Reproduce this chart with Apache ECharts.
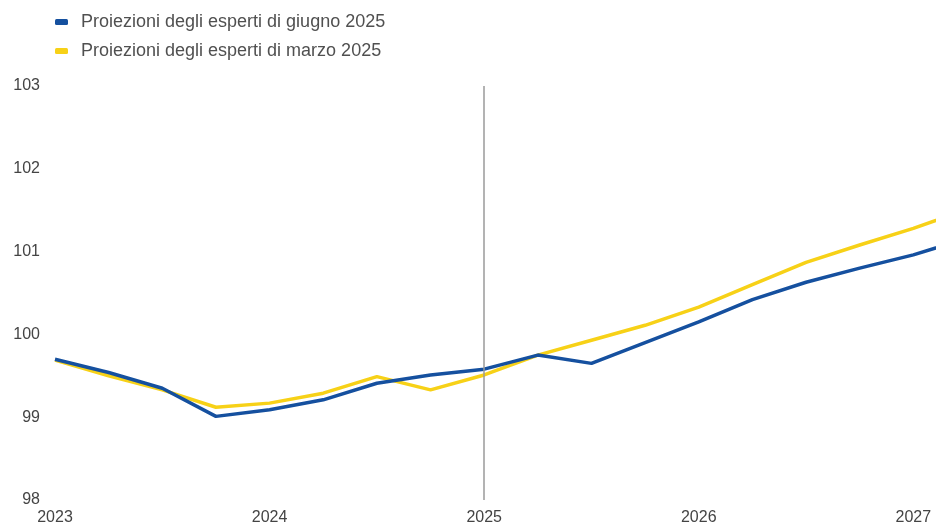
<!DOCTYPE html>
<html>
<head>
<meta charset="utf-8">
<script src="https://cdn.jsdelivr.net/npm/echarts@6/dist/echarts.min.js"></script>
<style>
  html, body { margin: 0; padding: 0; background: #ffffff; }
  #chart { width: 936px; height: 531px; }
</style>
</head>
<body>
<div id="chart"></div>
<script>
// Quarterly periods, 2023Q1 to 2027Q2
const periods = [
  '2023Q1', '2023Q2', '2023Q3', '2023Q4',
  '2024Q1', '2024Q2', '2024Q3', '2024Q4',
  '2025Q1', '2025Q2', '2025Q3', '2025Q4',
  '2026Q1', '2026Q2', '2026Q3', '2026Q4',
  '2027Q1', '2027Q2'
];

// Projection vintages
const juneName = 'Proiezioni degli esperti di giugno 2025';
const marchName = 'Proiezioni degli esperti di marzo 2025';

const juneValues = [
  99.70, 99.54, 99.35, 99.01,
  99.09, 99.21, 99.41, 99.51,
  99.58, 99.75, 99.65, 99.90,
  100.15, 100.42, 100.63, 100.80,
  100.96, 101.16
];

const marchValues = [
  99.69, 99.50, 99.33, 99.12,
  99.17, 99.29, 99.49, 99.33,
  99.51, 99.75, 99.93, 100.11,
  100.33, 100.60, 100.87, 101.08,
  101.28, 101.51
];

// Start of the projection horizon
const projectionStart = '2025Q1';

// Axis ticks
const yTicks = [98, 99, 100, 101, 102, 103];

const labelFont = "'Liberation Sans', Arial, sans-serif";
const legendFont = "'Liberation Sans', Arial, sans-serif";

const chart = echarts.init(document.getElementById('chart'), null, { renderer: 'canvas' });

chart.setOption({
  backgroundColor: '#ffffff',
  animation: false,
  legend: {
    orient: 'vertical',
    left: 55,
    top: 13,
    padding: 0,
    itemGap: 11,
    itemWidth: 13,
    itemHeight: 6,
    icon: 'roundRect',
    textStyle: { fontFamily: legendFont, fontSize: 18, color: '#505050', padding: [0, 0, 0, 8] },
    data: [juneName, marchName]
  },
  // the plot runs a quarter past the right edge of the canvas, so the last segment is cut
  grid: {
    left: 55,
    top: 86,
    width: 912,
    height: 414,
    containLabel: false,
    outerBoundsMode: 'none'
  },
  xAxis: {
    type: 'category',
    data: periods,
    boundaryGap: false,
    axisLine: { show: false },
    axisTick: { show: false },
    splitLine: { show: false },
    axisLabel: {
      interval: 0,
      margin: 10,
      fontFamily: labelFont,
      fontSize: 16,
      color: '#444444',
      formatter: function (v) { return v.endsWith('Q1') ? v.slice(0, 4) : ''; }
    }
  },
  yAxis: {
    type: 'value',
    min: yTicks[0],
    max: yTicks[yTicks.length - 1],
    interval: 1,
    axisLine: { show: false },
    axisTick: { show: false },
    splitLine: { show: false },
    axisLabel: {
      margin: 15,
      fontFamily: labelFont,
      fontSize: 16,
      color: '#444444'
    }
  },
  series: [
    {
      name: marchName,
      type: 'line',
      data: marchValues,
      symbol: 'none',
      z: 2,
      lineStyle: { color: '#f7d117', width: 3.5 },
      itemStyle: { color: '#f7d117' }
    },
    {
      name: juneName,
      type: 'line',
      data: juneValues,
      symbol: 'none',
      z: 3,
      lineStyle: { color: '#15509f', width: 3.5 },
      itemStyle: { color: '#15509f' },
      markLine: {
        silent: true,
        symbol: 'none',
        label: { show: false },
        lineStyle: { color: '#9a9a9a', width: 1.5, type: 'solid' },
        data: [{ xAxis: projectionStart }]
      }
    }
  ]
});
</script>
</body>
</html>
